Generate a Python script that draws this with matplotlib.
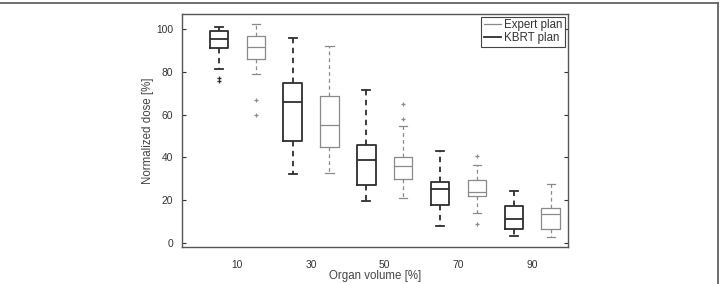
import matplotlib
matplotlib.use("Agg")
import matplotlib.pyplot as plt
from matplotlib.lines import Line2D

plt.rcParams['font.family'] = ['Liberation Sans', 'DejaVu Sans']

# Data: organ volume categories and box statistics (Normalized dose [%])
volumes = ["10", "30", "50", "70", "90"]

kbrt_whislo = [81.2, 32.1, 19.5, 8.1, 3.2]
kbrt_q1     = [91.0, 47.7, 27.3, 17.6, 6.4]
kbrt_med    = [95.5, 65.9, 38.8, 25.4, 11.4]
kbrt_q3     = [99.1, 74.6, 45.7, 28.5, 17.3]
kbrt_whishi = [101.1, 95.7, 71.5, 42.9, 24.2]
kbrt_fliers = [[77.2, 75.6], [], [], [], []]

exp_whislo = [79.0, 32.9, 21.2, 14.2, 2.8]
exp_q1     = [86.0, 44.8, 30.1, 22.1, 6.7]
exp_med    = [91.8, 55.2, 35.9, 23.8, 13.7]
exp_q3     = [96.9, 68.8, 40.2, 29.3, 16.5]
exp_whishi = [102.2, 92.2, 54.8, 36.3, 27.6]
exp_fliers = [[67.1, 59.8], [], [64.8, 58.2], [40.9, 9.0], []]

kbrt_color = "#2e2e2e"
exp_color = "#8a8a8a"

fig = plt.figure(figsize=(7.2, 2.84), dpi=100)
ax = fig.add_axes([182/720, 1-247/284, (568-182)/720, (247-14)/284])

def make_stats(wl, q1, med, q3, wh, fl):
    return [dict(whislo=a, q1=b, med=c, q3=d, whishi=e, fliers=f)
            for a, b, c, d, e, f in zip(wl, q1, med, q3, wh, fl)]

n = len(volumes)
kbrt_pos = [2*i + 1 for i in range(n)]
exp_pos = [2*i + 2 for i in range(n)]

def draw(stats, pos, color, lw):
    ax.bxp(stats, positions=pos, widths=0.5, capwidths=0.22, showfliers=True,
           boxprops=dict(color=color, linewidth=lw),
           medianprops=dict(color=color, linewidth=lw),
           whiskerprops=dict(color=color, linewidth=lw, linestyle=(0, (3, 2.5))),
           capprops=dict(color=color, linewidth=lw),
           flierprops=dict(marker='+', markeredgecolor=color, markersize=3.5,
                           markeredgewidth=0.9, linestyle='none'))

draw(make_stats(kbrt_whislo, kbrt_q1, kbrt_med, kbrt_q3, kbrt_whishi, kbrt_fliers),
     kbrt_pos, kbrt_color, 1.3)
draw(make_stats(exp_whislo, exp_q1, exp_med, exp_q3, exp_whishi, exp_fliers),
     exp_pos, exp_color, 0.9)

ax.set_xlim(0.0, 10.47)
ax.set_ylim(-1.9, 107.1)
ax.set_xticks([2*i + 1.5 for i in range(n)])
ax.set_xticklabels(volumes)
ax.set_yticks([0, 20, 40, 60, 80, 100])
ax.tick_params(axis='x', length=0, labelsize=7.4, pad=9, colors='#333333')
ax.tick_params(axis='y', direction='in', length=3, labelsize=7.4, right=True,
               colors='#333333', pad=6.5)
for s in ax.spines.values():
    s.set_color('#555555')
    s.set_linewidth(1.0)

ax.set_ylabel("Normalized dose [%]", fontsize=8.3, color='#444444', labelpad=1)
ax.set_xlabel("Organ volume [%]", fontsize=8.3, color='#444444', labelpad=0.5)

handles = [Line2D([], [], color=exp_color, linewidth=0.9),
           Line2D([], [], color=kbrt_color, linewidth=1.3)]
leg = ax.legend(handles, ["Expert plan", "KBRT plan"], loc='upper right',
                fontsize=8.3, fancybox=False, framealpha=1, edgecolor='#444444',
                borderaxespad=0.25, handlelength=1.5, handletextpad=0.3,
                borderpad=0.2, labelspacing=0.1)
leg.get_frame().set_linewidth(0.8)
for t in leg.get_texts():
    t.set_color('#333333')

# Figure frame lines (top and right)
fig.add_artist(Line2D([0, 718/720], [1-2.5/284, 1-2.5/284], transform=fig.transFigure,
                      color='#555555', linewidth=1.2))
fig.add_artist(Line2D([718/720, 718/720], [0, 1-2.5/284], transform=fig.transFigure,
                      color='#555555', linewidth=1.2))

fig.savefig("out.png", dpi=100)
